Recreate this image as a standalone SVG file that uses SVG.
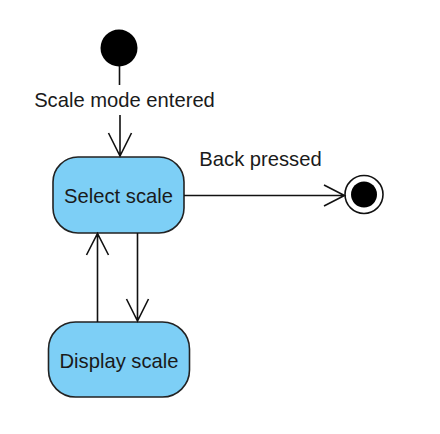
<svg xmlns="http://www.w3.org/2000/svg" width="440" height="434" viewBox="0 0 440 434">
<style>
.state{fill:#7DCFF6;stroke:#222;stroke-width:1.6}
.lbl{font-family:"Liberation Sans",Arial,sans-serif;font-size:20.2px;fill:#1a1a1a}
.edge{fill:none;stroke:#111;stroke-width:1.6}
</style>
<rect width="440" height="434" fill="#fff"/>
<g id="initial">
<circle cx="119" cy="48" r="18.5" fill="#000"/>
</g>
<g id="select-scale">
<rect class="state" x="53" y="157" width="131" height="76" rx="25" ry="25"/>
<text class="lbl" x="118.5" y="203" text-anchor="middle">Select scale</text>
</g>
<g id="display-scale">
<rect class="state" x="48.5" y="322" width="141" height="75" rx="27" ry="27"/>
<text class="lbl" x="119" y="368" text-anchor="middle">Display scale</text>
</g>
<g id="final">
<circle cx="364" cy="194.5" r="19" fill="#fff" stroke="#111" stroke-width="1.6"/>
<circle cx="364" cy="194.5" r="13" fill="#000"/>
</g>
<g id="connectors">
<path class="edge" d="M119.5 66 V85"/>
<text class="lbl" x="124.5" y="107" text-anchor="middle">Scale mode entered</text>
<path class="edge" d="M120 115 V156 M108.5 133 L120 156 L131.5 133"/>
<path class="edge" d="M184 195.5 H344.5 M324 185 L344.5 195.5 L324 206"/>
<text class="lbl" x="260.5" y="166" text-anchor="middle">Back pressed</text>
<path class="edge" d="M97.5 322 V233.5 M86.5 255 L97.5 233.5 L108.5 255"/>
<path class="edge" d="M137.5 233 V321 M126.5 299 L137.5 321 L148.5 299"/>
</g>
</svg>
